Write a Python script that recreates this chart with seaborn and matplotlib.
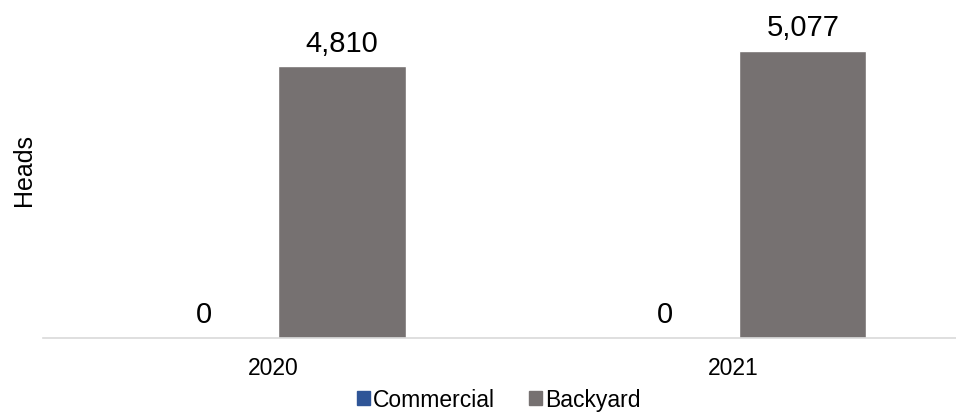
import pandas as pd
import matplotlib.pyplot as plt
import seaborn as sns

years = ['2020', '2021']
commercial = [0, 0]
backyard = [4810, 5077]

df = pd.DataFrame({
    'year': years * 2,
    'type': ['Commercial'] * 2 + ['Backyard'] * 2,
    'heads': commercial + backyard,
})

sns.set_style('white')
plt.rcParams['font.family'] = ['Liberation Sans', 'DejaVu Sans']
plt.rcParams['text.color'] = 'black'
plt.rcParams['axes.labelcolor'] = 'black'
plt.rcParams['xtick.color'] = 'black'

fig = plt.figure(figsize=(9.56, 4.14), dpi=100)
ax = fig.add_axes([0.0445, 0.181, 0.964, 0.819])

palette = {'Commercial': '#2F5597', 'Backyard': '#767171'}
sns.barplot(data=df, x='year', y='heads', hue='type', palette=palette,
            width=0.6, gap=0.08, ax=ax, legend=False, saturation=1)

for cont in ax.containers:
    ax.bar_label(cont, labels=[f'{v:,.0f}' for v in cont.datavalues],
                 fontsize=21, padding=7)

ax.set_ylim(0, 6000)
ax.set_yticks([])
ax.set_xlabel('')
ax.set_ylabel('Heads', fontsize=18, labelpad=5)
ax.tick_params(axis='x', length=0, labelsize=16.5, pad=13)
for s in ['top', 'right', 'left']:
    ax.spines[s].set_visible(False)
ax.spines['bottom'].set_color('#D9D9D9')
ax.spines['bottom'].set_linewidth(1.2)

handles = [plt.Rectangle((0, 0), 1, 1, color=palette[k]) for k in ['Commercial', 'Backyard']]
fig.legend(handles, ['Commercial', 'Backyard'], loc='lower center', ncol=2,
           frameon=False, fontsize=16.5, handlelength=0.55, handleheight=0.55,
           handletextpad=0.15, columnspacing=1.5, bbox_to_anchor=(0.522, -0.046))

fig.savefig('out.png', dpi=100)
